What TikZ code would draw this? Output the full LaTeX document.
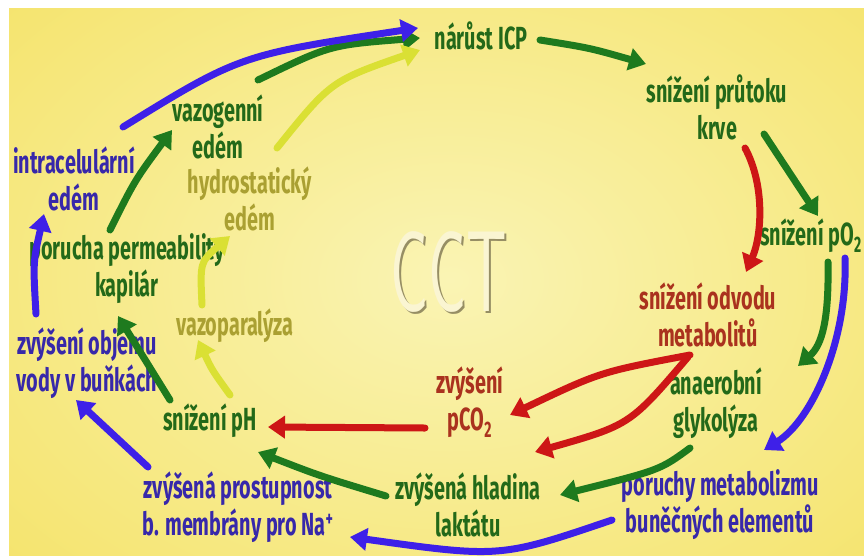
\documentclass[tikz,border=0pt]{standalone}
\usepackage{fontspec}
\setmainfont{Fira Sans}[FakeStretch=0.62]
\usepackage{xcolor}
\usepackage{graphicx}
\usepackage{tikz}
\usetikzlibrary{arrows.meta, calc}
\definecolor{bgyellow}{RGB}{245,228,110}
\definecolor{bglight}{RGB}{250,244,180}
\definecolor{txtgreen}{RGB}{35,105,25}
\definecolor{txtblue}{RGB}{55,40,170}
\definecolor{txtred}{RGB}{170,50,30}
\definecolor{txtolive}{RGB}{170,160,50}
\definecolor{arrgreen}{RGB}{30,122,30}
\definecolor{arrblue}{RGB}{62,32,232}
\definecolor{arrred}{RGB}{205,22,22}
\definecolor{arryellow}{RGB}{218,224,52}
\definecolor{cctshadow}{RGB}{150,142,100}
\definecolor{cctface}{RGB}{250,245,210}

\tikzset{
  lbl/.style={font=\bfseries\fontsize{32}{37}\selectfont, align=center, inner sep=0pt},
  grntxt/.style={lbl, text=txtgreen},
  bluetxt/.style={lbl, text=txtblue},
  redtxt/.style={lbl, text=txtred},
  olivetxt/.style={lbl, text=txtolive},
  cctlbl/.style={inner sep=0pt, font=\sffamily\fontsize{115}{115}\selectfont},
  arr/.style={line width=7pt, line cap=round, -{Triangle[length=17pt,width=22pt]}},
  grnarr/.style={arr, draw=arrgreen},
  bluearr/.style={arr, draw=arrblue},
  redarr/.style={arr, draw=arrred},
  yelarr/.style={arr, draw=arryellow}
}

\begin{document}
\begin{tikzpicture}[x=1pt, y=-1pt]
    \useasboundingbox (0,0) rectangle (864,555);
    \clip (0,0) rectangle (864,555);

    % background
    \fill[bgyellow] (9,8) rectangle (864,555);
    \begin{scope}
        \clip (9,8) rectangle (864,555);
        \shade[inner color=bglight, outer color=bgyellow] (450,280) ellipse [x radius=600, y radius=420];
    \end{scope}

    % CCT
    \node[cctlbl, text=cctshadow] at (450.5,273.5) {\scalebox{0.55}[1]{CCT}};
    \node[cctlbl, text=cctface] (cct) at (449,272) {\scalebox{0.55}[1]{CCT}};

    % top and right side
    \node[grntxt] (icp) at (481,36) {nárůst ICP};
    \node[grntxt] (prutok) at (717,107) {snížení průtoku\\krve};
    \node[grntxt, anchor=east] (po2) at (862,236) {snížení pO\textsubscript{2}};
    \node[redtxt] (odvod) at (708,315) {snížení odvodu\\metabolitů};
    \node[grntxt] (anaer) at (716,403) {anaerobní\\glykolýza};
    \node[bluetxt] (porucha) at (720,505) {poruchy metabolizmu\\buněčných elementů};

    % middle and bottom
    \node[redtxt] (pco2) at (470,402) {zvýšení\\pCO\textsubscript{2}};
    \node[grntxt] (laktat) at (468,505) {zvýšená hladina\\laktátu};
    \node[grntxt] (ph) at (210,421) {snížení pH};
    \node[bluetxt] (prostup) at (238,507) {zvýšená prostupnost\\b. membrány pro Na\textsuperscript{+}};

    % left side
    \node[bluetxt] (objem) at (87,363) {zvýšení objemu\\vody v buňkách};
    \node[olivetxt] (vazopar) at (235,326) {vazoparalýza};
    \node[grntxt] (perm) at (127,269) {porucha permeability\\kapilár};
    \node[bluetxt] (intra) at (74,179) {intracelulární\\edém};
    \node[grntxt] (vazog) at (218,127) {vazogenní\\edém};
    \node[olivetxt] (hydro) at (250,199) {hydrostatický\\edém};

    % green arrows
    \draw[grnarr] ($(icp)+(59,4)$) .. controls (590,48) .. ($(prutok)+(-71,-43)$);
    \draw[grnarr] ($(prutok)+(47,27)$) -- ($(po2.east)+(-44,-20)$);
    \draw[grnarr] ($(po2.east)+(-34,26)$) .. controls (829,320) and (822,345) .. ($(anaer)+(82,-37)$);
    \draw[grnarr] ($(anaer)+(-26,45)$) .. controls (660,470) .. ($(laktat)+(92,-10)$);
    \draw[grnarr] ($(laktat)+(-82,-9)$) .. controls (320,476) .. ($(ph)+(48,31)$);
    \draw[grnarr] ($(ph)+(-40,-21)$) -- ($(perm)+(-9,47)$);
    \draw[grnarr] ($(perm)+(-17,-39)$) .. controls (135,180) .. ($(vazog)+(-46,3)$);
    \draw[grnarr] ($(vazog)+(40,-47)$) .. controls (330,45) .. ($(icp)+(-61,2)$);

    % blue arrows
    \draw[bluearr] ($(intra)+(49,-52)$) .. controls (240,55) .. ($(icp)+(-63,-8)$);
    \draw[bluearr] ($(objem)+(-51,-49)$) .. controls (33,262) .. ($(intra)+(-30,35)$);
    \draw[bluearr] ($(prostup)+(-90,-40)$) -- ($(objem)+(-11,37)$);
    \draw[bluearr] ($(porucha)+(-108,15)$) .. controls (500,558) .. ($(prostup)+(112,30)$);
    \draw[bluearr] ($(po2.east)+(-17,22)$) .. controls (848,340) and (812,420) .. ($(porucha)+(44,-55)$);

    % red arrows
    \draw[redarr] ($(prutok)+(28,41)$) .. controls (765,185) and (762,235) .. ($(odvod)+(38,-43)$);
    \draw[redarr] ($(odvod)+(-18,40)$) .. controls (600,372) .. ($(pco2)+(40,13)$);
    \draw[redarr] ($(odvod)+(-20,42)$) .. controls (630,425) .. ($(laktat)+(67,-53)$);
    \draw[redarr] ($(pco2)+(-45,26)$) -- ($(ph)+(58,6)$);

    % yellow arrows
    \draw[yelarr] ($(hydro)+(27,-51)$) .. controls (331,81) .. ($(icp)+(-61,14)$);
    \draw[yelarr] ($(vazopar)+(-33,-21)$) .. controls (200,262) .. ($(hydro)+(-20,37)$);
    \draw[yelarr] ($(ph)+(20,-26)$) .. controls (212,370) .. ($(vazopar)+(-37,14)$);
\end{tikzpicture}
\end{document}
